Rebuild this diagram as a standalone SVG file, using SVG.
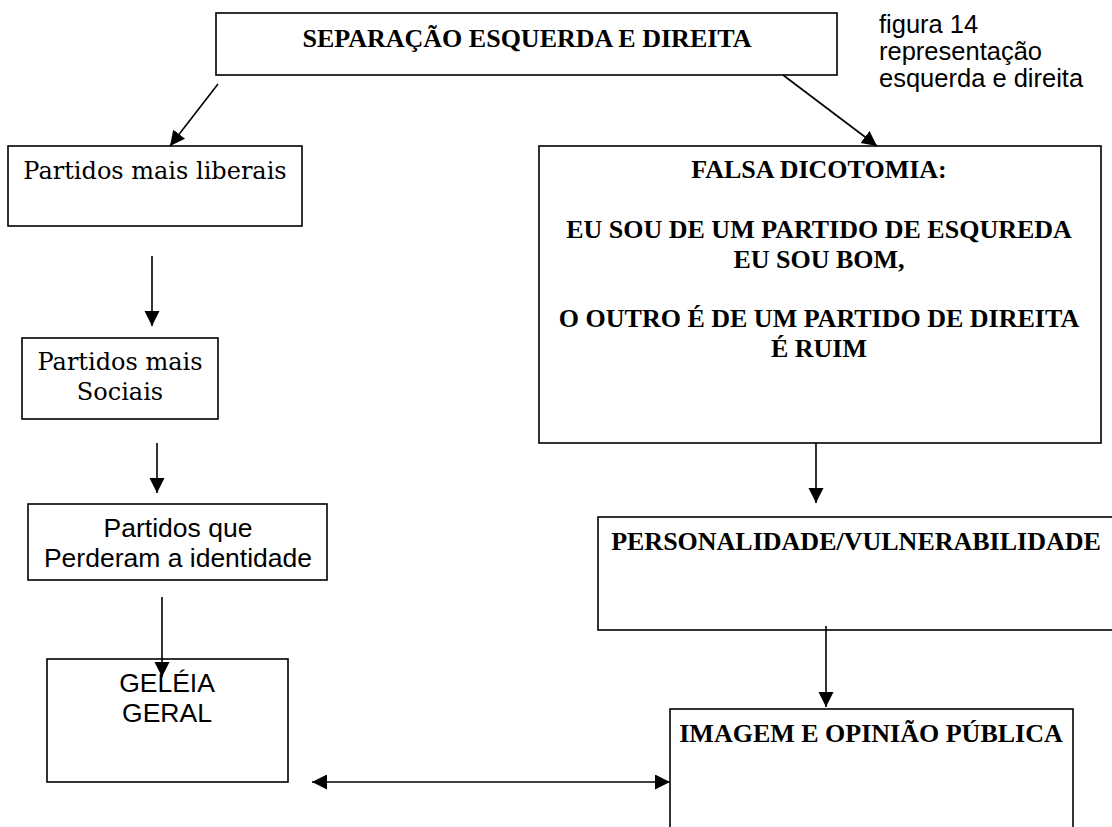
<svg xmlns="http://www.w3.org/2000/svg" width="1112" height="827" viewBox="0 0 1112 827">
<style>
.box{fill:#fff;stroke:#000;stroke-width:1.6}
.b{font-family:"Liberation Serif","Times New Roman",serif;font-weight:bold;font-size:26px;fill:#000}
.s{font-family:"DejaVu Serif",serif;font-size:24px;fill:#000}
.a{font-family:"Liberation Sans",Arial,sans-serif;font-size:26.5px;fill:#000}
.cap{font-family:"Liberation Sans",Arial,sans-serif;font-size:25.5px;fill:#000}
.c{stroke:#000;stroke-width:1.6;fill:none}
</style>
<defs>
<marker id="ah" markerUnits="userSpaceOnUse" markerWidth="16" markerHeight="16" refX="15" refY="7.5" orient="auto">
<path d="M0,0 L15,7.5 L0,15 z" fill="#000"/>
</marker>
<marker id="as" markerUnits="userSpaceOnUse" markerWidth="16" markerHeight="16" refX="0" refY="7.5" orient="auto">
<path d="M15,0 L0,7.5 L15,15 z" fill="#000"/>
</marker>
</defs>
<rect width="1112" height="827" fill="#fff"/>
<g id="n-top">
<rect class="box" x="216" y="13" width="621" height="62"/>
<text class="b" x="527" y="47" text-anchor="middle">SEPARAÇÃO ESQUERDA E DIREITA</text>
</g>
<g id="n-caption">
<text class="cap" x="879" y="33">figura 14</text>
<text class="cap" x="879" y="60">representação</text>
<text class="cap" x="879" y="87">esquerda e direita</text>
</g>
<g id="n-liberais">
<rect class="box" x="8" y="146" width="294" height="80"/>
<text class="s" x="155" y="179" text-anchor="middle">Partidos mais liberais</text>
</g>
<g id="n-sociais">
<rect class="box" x="22" y="338" width="196" height="81"/>
<text class="s" x="120" y="370" text-anchor="middle">Partidos mais</text>
<text class="s" x="120" y="400" text-anchor="middle">Sociais</text>
</g>
<g id="n-perderam">
<rect class="box" x="28" y="504" width="299" height="76"/>
<text class="a" x="178" y="537" text-anchor="middle">Partidos que</text>
<text class="a" x="178" y="567" text-anchor="middle">Perderam a identidade</text>
</g>
<g id="n-geleia">
<rect class="box" x="47" y="659" width="241" height="123"/>
<text class="a" x="167" y="692" text-anchor="middle">GELÉIA</text>
<text class="a" x="167" y="722" text-anchor="middle">GERAL</text>
</g>
<g id="n-falsa">
<rect class="box" x="539" y="146" width="562" height="297"/>
<text class="b" x="819" y="178" text-anchor="middle">FALSA DICOTOMIA:</text>
<text class="b" x="819" y="238" text-anchor="middle">EU SOU DE UM PARTIDO DE ESQUREDA</text>
<text class="b" x="819" y="268" text-anchor="middle">EU SOU BOM,</text>
<text class="b" x="819" y="327" text-anchor="middle">O OUTRO É DE UM PARTIDO DE DIREITA</text>
<text class="b" x="819" y="357" text-anchor="middle">É RUIM</text>
</g>
<g id="n-personalidade">
<rect class="box" x="598" y="517" width="520" height="113"/>
<text class="b" x="856" y="550" text-anchor="middle">PERSONALIDADE/VULNERABILIDADE</text>
</g>
<g id="n-imagem">
<rect class="box" x="670" y="709" width="403" height="140"/>
<text class="b" x="871" y="742" text-anchor="middle">IMAGEM E OPINIÃO PÚBLICA</text>
</g>
<g id="connectors">
<line class="c" x1="218" y1="84" x2="170" y2="146" marker-end="url(#ah)"/>
<line class="c" x1="783" y1="75" x2="877" y2="146" marker-end="url(#ah)"/>
<line class="c" x1="152" y1="256" x2="152" y2="326" marker-end="url(#ah)"/>
<line class="c" x1="157" y1="443" x2="157" y2="493" marker-end="url(#ah)"/>
<line class="c" x1="162" y1="597" x2="162" y2="677" marker-end="url(#ah)"/>
<line class="c" x1="816" y1="443" x2="816" y2="503" marker-end="url(#ah)"/>
<line class="c" x1="826" y1="626" x2="826" y2="707" marker-end="url(#ah)"/>
<line class="c" x1="312" y1="782" x2="670" y2="782" marker-start="url(#as)" marker-end="url(#ah)"/>
</g>
</svg>
